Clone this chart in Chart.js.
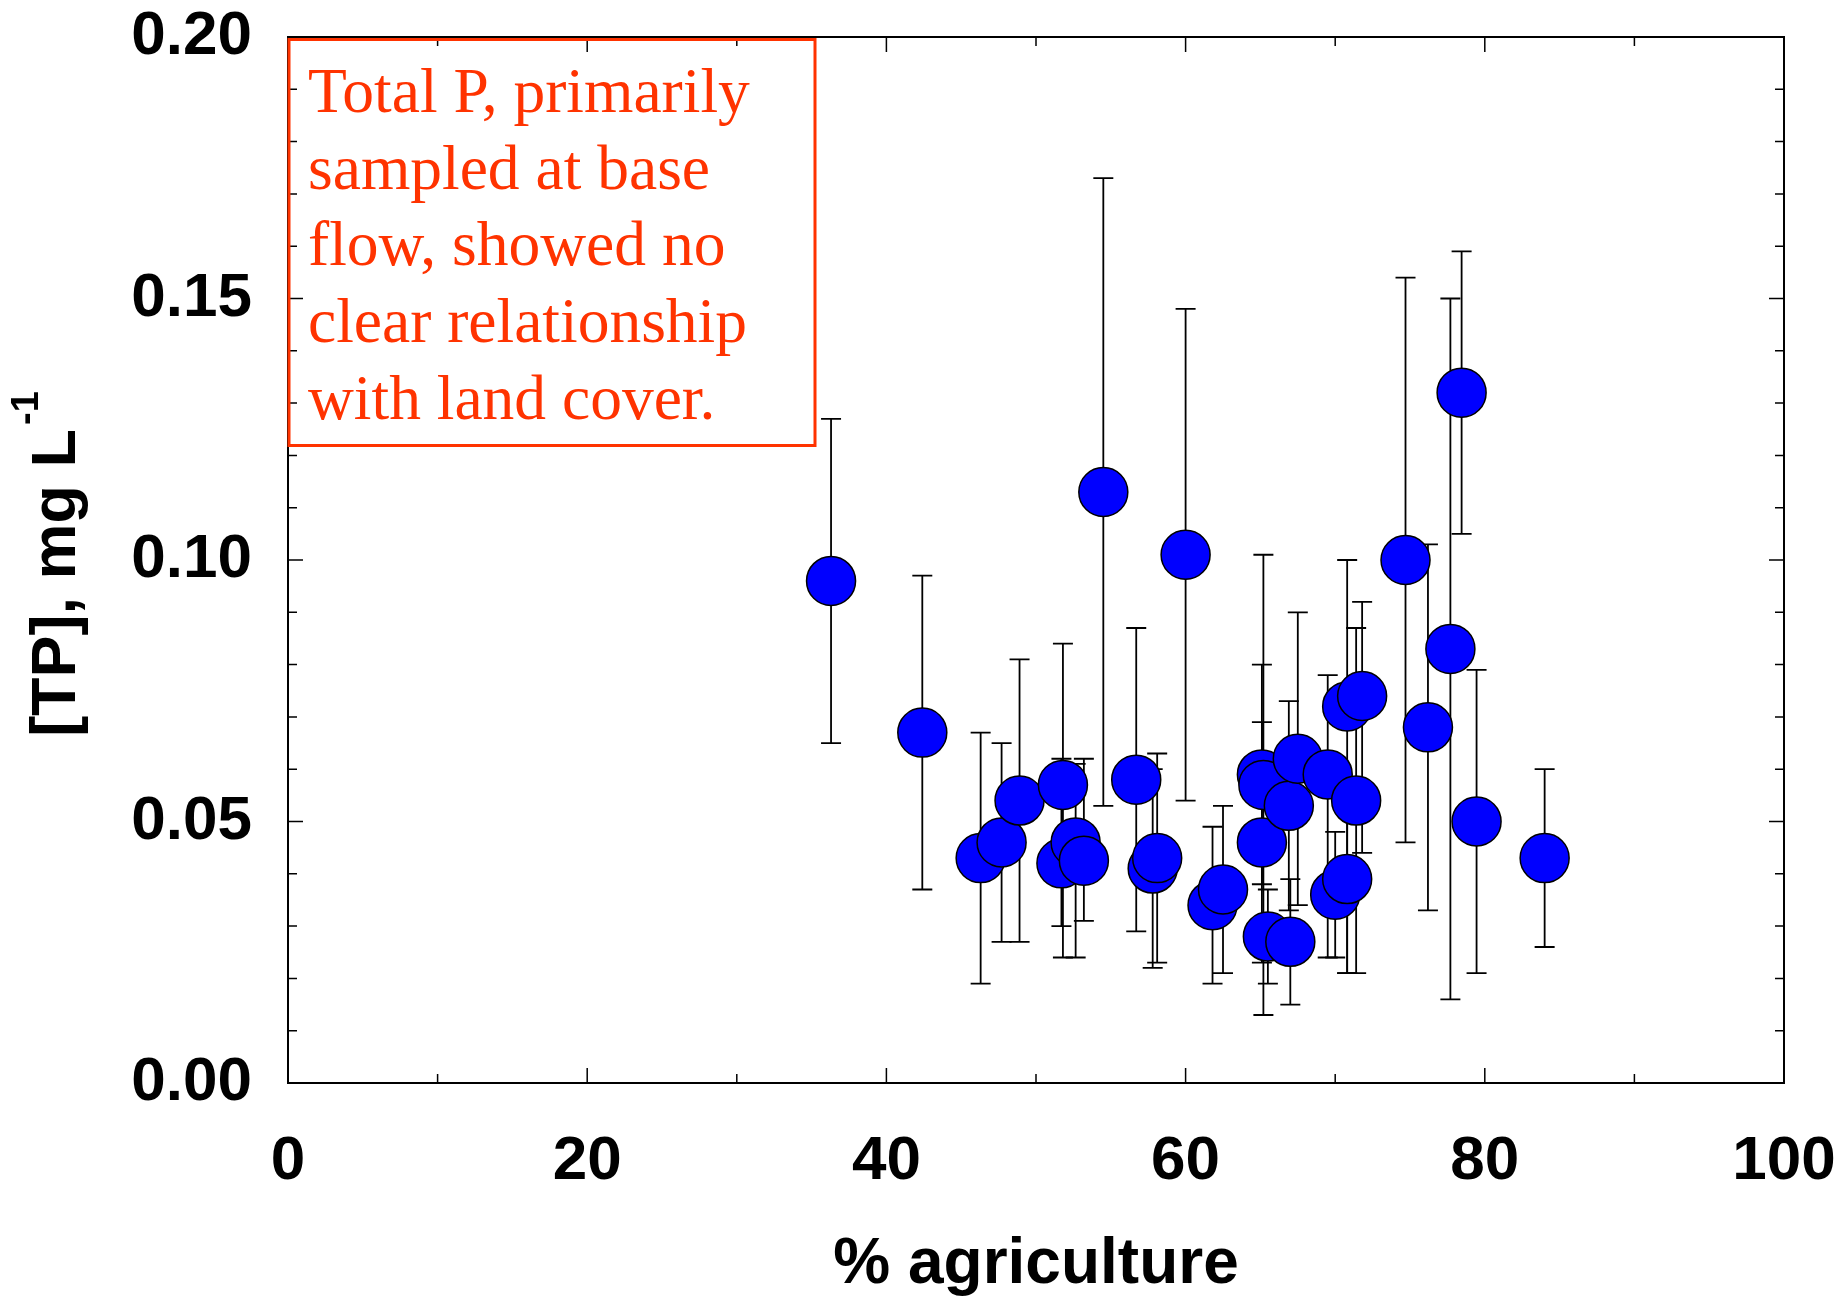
<!DOCTYPE html>
<html>
<head>
<meta charset="utf-8">
<script src="https://cdn.jsdelivr.net/npm/chart.js@4.4.0/dist/chart.umd.min.js"></script>
<style>
  html, body { margin: 0; padding: 0; background: #fff; }
</style>
</head>
<body>
<canvas id="tpChart" width="1843" height="1304"></canvas>
<script>
// % agriculture of each watershed, mean TP and the ends of its error bar (mg/L)
var agriculture = [36.3, 42.4, 46.3, 47.7, 48.9, 51.8, 51.7, 52.65, 53.2, 54.5, 56.7, 57.8, 58.1, 60.0, 61.8, 62.5,
  65.1, 65.2, 65.1, 65.5, 66.9, 67.0, 67.5, 69.5, 70.0, 70.8, 70.8, 71.4, 71.8, 74.7, 76.2, 77.7, 78.45, 79.45, 84.0];
var tpMean = [0.096, 0.067, 0.043, 0.046, 0.054, 0.057, 0.042, 0.046, 0.0425, 0.113, 0.058, 0.041, 0.043, 0.101, 0.034, 0.037,
  0.059, 0.057, 0.046, 0.028, 0.053, 0.027, 0.062, 0.059, 0.036, 0.039, 0.072, 0.054, 0.074, 0.100, 0.068, 0.083, 0.132, 0.050, 0.043];
var tpLow = [0.065, 0.037, 0.019, 0.027, 0.027, 0.024, 0.030, 0.024, 0.031, 0.053, 0.029, 0.022, 0.023, 0.054, 0.019, 0.021,
  0.038, 0.013, 0.023, 0.019, 0.033, 0.015, 0.034, 0.024, 0.024, 0.021, 0.021, 0.021, 0.044, 0.046, 0.033, 0.016, 0.105, 0.021, 0.026];
var tpHigh = [0.127, 0.097, 0.067, 0.065, 0.081, 0.084, 0.062, 0.061, 0.062, 0.173, 0.087, 0.060, 0.063, 0.148, 0.049, 0.053,
  0.080, 0.101, 0.069, 0.037, 0.073, 0.039, 0.090, 0.078, 0.048, 0.057, 0.100, 0.087, 0.092, 0.154, 0.103, 0.150, 0.159, 0.079, 0.060];

var xTickValues = [0, 20, 40, 60, 80, 100];
var yTickValues = [0, 0.05, 0.10, 0.15, 0.20];
var noteLines = ["Total P, primarily", "sampled at base", "flow, showed no", "clear relationship", "with land cover."];

var sansBold = { family: "'Liberation Sans', Arial, sans-serif", weight: "bold", size: 62, lineHeight: 1 };
var noteColor = "#ff3300";

var points = agriculture.map((a, i) => ({ x: a, y: tpMean[i] }));

// error bars behind the markers
const errorBars = {
  id: "errorBars",
  beforeDatasetsDraw(chart) {
    const ctx = chart.ctx, xs = chart.scales.x, ys = chart.scales.y;
    ctx.save();
    ctx.strokeStyle = "#000";
    ctx.lineWidth = 1.8;
    agriculture.forEach((a, i) => {
      const px = xs.getPixelForValue(a);
      const lo = ys.getPixelForValue(tpLow[i]);
      const hi = ys.getPixelForValue(tpHigh[i]);
      ctx.beginPath();
      ctx.moveTo(px, hi); ctx.lineTo(px, lo);
      ctx.moveTo(px - 10, hi); ctx.lineTo(px + 10, hi);
      ctx.moveTo(px - 10, lo); ctx.lineTo(px + 10, lo);
      ctx.stroke();
    });
    ctx.restore();
  }
};

// box frame with inward ticks on all sides
const frame = {
  id: "frame",
  beforeDatasetsDraw(chart) {
    const ctx = chart.ctx, a = chart.chartArea, xs = chart.scales.x, ys = chart.scales.y;
    ctx.save();
    ctx.strokeStyle = "#000";
    ctx.lineWidth = 2;
    ctx.strokeRect(a.left, a.top, a.right - a.left, a.bottom - a.top);
    ctx.lineWidth = 1.5;
    ctx.beginPath();
    for (let v = 0; v <= 100; v += 10) {
      const px = xs.getPixelForValue(v);
      const len = v % 20 === 0 ? 15 : 9;
      ctx.moveTo(px, a.bottom); ctx.lineTo(px, a.bottom - len);
      ctx.moveTo(px, a.top); ctx.lineTo(px, a.top + len);
    }
    for (let k = 0; k <= 20; k++) {
      const py = ys.getPixelForValue(k / 100);
      const len = k % 5 === 0 ? 15 : 9;
      ctx.moveTo(a.left, py); ctx.lineTo(a.left + len, py);
      ctx.moveTo(a.right, py); ctx.lineTo(a.right - len, py);
    }
    ctx.stroke();
    ctx.restore();
  },
  afterDraw(chart) {
    const ctx = chart.ctx, a = chart.chartArea;
    ctx.save();
    // y axis title with superscript
    ctx.translate(74.6, (a.top + a.bottom) / 2 + 4);
    ctx.rotate(-Math.PI / 2);
    ctx.fillStyle = "#000";
    ctx.textBaseline = "alphabetic";
    ctx.font = "bold 63px 'Liberation Sans', Arial, sans-serif";
    const main = "[TP], mg L";
    const w1 = ctx.measureText(main).width;
    ctx.font = "bold 38px 'Liberation Sans', Arial, sans-serif";
    const w2 = ctx.measureText("-1").width;
    const start = -(w1 + w2 + 4) / 2;
    ctx.font = "bold 63px 'Liberation Sans', Arial, sans-serif";
    ctx.fillText(main, start, 0);
    ctx.font = "bold 38px 'Liberation Sans', Arial, sans-serif";
    ctx.fillText("-1", start + w1 + 4, -37);
    ctx.restore();

    // note box
    ctx.save();
    ctx.strokeStyle = noteColor;
    ctx.lineWidth = 3;
    ctx.strokeRect(a.left + 1, a.top + 2.5, 526, 406);
    ctx.fillStyle = noteColor;
    ctx.font = "63.5px 'Liberation Serif', 'Times New Roman', serif";
    ctx.textBaseline = "alphabetic";
    noteLines.forEach((t, i) => {
      ctx.fillText(t, a.left + 20, a.top + 75 + i * 76.7);
    });
    ctx.restore();
  }
};

new Chart("tpChart", {
  type: "scatter",
  data: {
    datasets: [
      {
        data: points,
        backgroundColor: "#0000ff",
        borderColor: "#000",
        borderWidth: 1.5,
        pointRadius: 24.5,
        pointHoverRadius: 24.5,
      },
    ],
  },
  options: {
    responsive: false,
    animation: false,
    layout: { padding: { left: 0, top: 37, right: 59, bottom: 0 } },
    plugins: {
      legend: { display: false },
      tooltip: { enabled: false },
    },
    scales: {
      x: {
        type: "linear",
        min: 0,
        max: 100,
        afterBuildTicks: (s) => { s.ticks = xTickValues.map((v) => ({ value: v })); },
        afterFit: (s) => {
          s.height = 221;
          s.paddingLeft = 0;
          s.paddingRight = 0;
        },
        grid: { display: false, drawTicks: false },
        border: { display: false },
        ticks: { autoSkip: false, maxRotation: 0, color: "#000", padding: 48, font: sansBold },
        title: {
          display: true,
          text: "% agriculture",
          color: "#000",
          font: { family: sansBold.family, weight: "bold", size: 64, lineHeight: 1.2 },
          padding: { top: 0, bottom: 0 },
        },
      },
      y: {
        type: "linear",
        min: 0,
        max: 0.2,
        afterBuildTicks: (s) => { s.ticks = yTickValues.map((v) => ({ value: v })); },
        afterFit: (s) => {
          s.width = 288;
          s.paddingTop = 0;
          s.paddingBottom = 0;
        },
        grid: { display: false, drawTicks: false },
        border: { display: false },
        ticks: {
          autoSkip: false,
          color: "#000",
          padding: 36,
          font: sansBold,
          callback: (v) => v.toFixed(2),
        },
      },
    },
  },
  plugins: [errorBars, frame],
});
</script>
</body>
</html>
